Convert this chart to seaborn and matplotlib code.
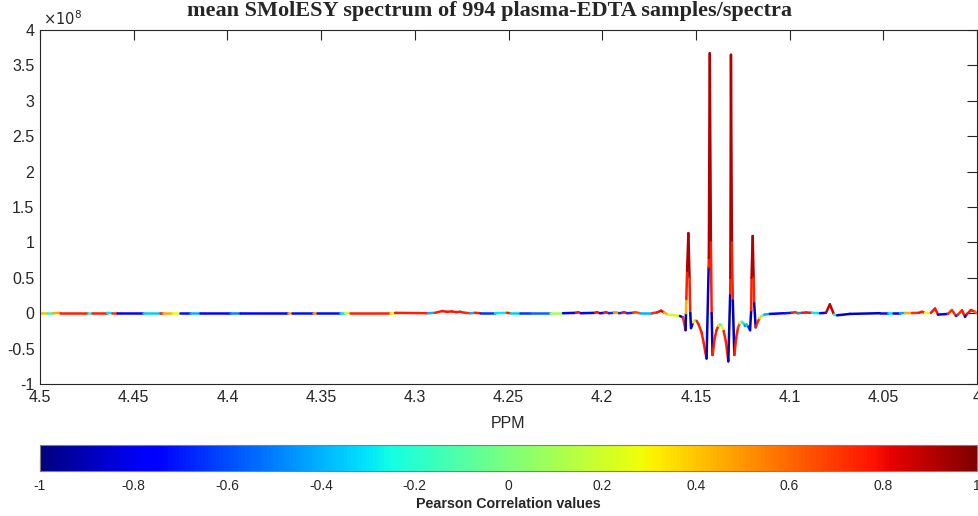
import numpy as np
import matplotlib

matplotlib.use("Agg")

import matplotlib.pyplot as plt
import seaborn as sns
from matplotlib.collections import LineCollection
from matplotlib.ticker import FixedLocator, FuncFormatter

# ============================================================
# DATA  (ppm, intensity in units of 1e8, Pearson r per segment)
# ============================================================

PPM = [
    4.5000, 4.4963, 4.4931, 4.4893, 4.4744, 4.4723, 4.4642, 4.4616, 4.4589, 4.4450,
    4.4360, 4.4344, 4.4296, 4.4253, 4.4200, 4.4146, 4.3986, 4.3933, 4.3677, 4.3655,
    4.3543, 4.3522, 4.3399, 4.3372, 4.3346, 4.3132, 4.3106, 4.2930, 4.2892, 4.2855,
    4.2829, 4.2802, 4.2780, 4.2759, 4.2732, 4.2705, 4.2679, 4.2652, 4.2572, 4.2508,
    4.2492, 4.2439, 4.2385, 4.2279, 4.2209, 4.2140, 4.2129, 4.2113, 4.2038, 4.2028,
    4.2012, 4.1990, 4.1980, 4.1964, 4.1937, 4.1926, 4.1910, 4.1894, 4.1883, 4.1867,
    4.1835, 4.1825, 4.1798, 4.1734, 4.1708, 4.1686, 4.1670, 4.1649, 4.1611, 4.1585,
    4.1569,
    # doublet of doublets region
    4.1555, 4.1553, 4.1551, 4.1547, 4.1540, 4.1534, 4.1530,
    4.1526, 4.1515, 4.1505, 4.1496, 4.1485, 4.1470, 4.1458, 4.1450,
    4.1443, 4.1432, 4.1431, 4.1426, 4.1420, 4.1416,
    4.1411, 4.1400, 4.1390, 4.1380, 4.1371, 4.1362, 4.1352, 4.1340, 4.1333,
    4.1327, 4.1317, 4.1316, 4.1313, 4.1308, 4.1303,
    4.1295, 4.1285, 4.1275, 4.1265, 4.1256, 4.1247, 4.1238, 4.1230, 4.1220,
    4.1211, 4.1205, 4.1203, 4.1197, 4.1192, 4.1189,
    4.1181, 4.1170, 4.1160, 4.1150, 4.1135,
    # right baseline
    4.1105, 4.1025, 4.0988, 4.0971, 4.0955, 4.0934, 4.0913, 4.0881, 4.0838, 4.0806,
    4.0785, 4.0763, 4.0747, 4.0678, 4.0518, 4.0475, 4.0448, 4.0411, 4.0384, 4.0347,
    4.0310, 4.0294, 4.0278, 4.0246, 4.0224, 4.0208, 4.0155, 4.0134, 4.0112, 4.0102,
    4.0080, 4.0064, 4.0053, 4.0032, 4.0011, 4.0000,
]

INTENSITY = [
    0.000, 0.000, 0.000, 0.005, 0.005, 0.005, 0.005, 0.000, 0.000, 0.000,
    0.000, 0.000, 0.000, 0.000, 0.000, 0.000, 0.000, 0.000, 0.000, 0.000,
    0.000, 0.000, 0.000, 0.000, 0.005, 0.005, 0.005, 0.000, 0.005, 0.030,
    0.020, 0.025, 0.015, 0.020, 0.005, 0.000, 0.005, 0.000, 0.000, 0.005,
    0.000, 0.000, 0.000, 0.000, 0.000, 0.005, 0.015, 0.000, 0.005, 0.015,
    0.000, 0.005, 0.015, 0.000, 0.005, 0.012, 0.000, 0.005, 0.015, 0.000,
    0.005, 0.015, 0.000, 0.000, 0.010, 0.035, 0.010, -0.020, -0.030, -0.040,
    -0.060,
    -0.24, 0.00, 0.20, 0.60, 1.13, 0.50, 0.00,
    -0.21, -0.13, -0.10, -0.11, -0.16, -0.27, -0.42, -0.55,
    -0.64, 0.65, 0.78, 3.67, 1.00, 0.00,
    -0.59, -0.36, -0.24, -0.18, -0.16, -0.18, -0.25, -0.40, -0.55,
    -0.68, 0.28, 0.50, 3.65, 1.00, 0.18,
    -0.59, -0.35, -0.20, -0.14, -0.12, -0.14, -0.18, -0.16, -0.19,
    -0.24, 0.04, 0.50, 1.09, 0.50, 0.14,
    -0.20, -0.12, -0.07, -0.04, -0.02,
    -0.010, 0.000, 0.005, 0.015, 0.000, 0.005, 0.010, 0.005, 0.000, 0.005,
    0.125, -0.020, -0.030, -0.010, 0.000, 0.000, 0.000, 0.000, 0.002, 0.003,
    0.005, 0.020, 0.003, 0.005, 0.066, -0.020, -0.010, 0.045, -0.040, -0.020,
    0.040, -0.050, -0.010, 0.045, 0.020, 0.000,
]

CORR = [
    0.40, -0.20, 0.45, 0.75, -0.25, 0.75, -0.30, 0.72, -0.75, -0.35,
    0.75, 0.45, 0.25, -0.72, -0.40, -0.75, -0.50, -0.75, 0.45, -0.72,
    0.50, -0.72, -0.30, 0.20, 0.75, 0.25, 0.75, -0.40, 0.75, 0.78,
    0.78, 0.78, 0.78, 0.75, 0.72, -0.40, 0.75, -0.65, -0.30, 0.75,
    -0.35, -0.65, -0.55, 0.10, -0.75, 0.78, 0.78, -0.75, 0.78, 0.78,
    -0.75, 0.78, 0.78, -0.65, 0.50, 0.50, -0.65, 0.78, 0.78, -0.65,
    0.72, 0.65, -0.40, 0.72, 0.78, 0.82, 0.45, 0.20, 0.20, -0.80,
    0.72,
    -0.90, 0.45, 0.75, 0.92, 0.92, 0.75, -0.90,
    -0.80, 0.25, 0.00, 0.75, 0.75, 0.75, 0.75, 0.75,
    -0.85, 0.75, 0.92, 0.90, 0.75, -0.90,
    0.75, 0.75, 0.75, 0.35, -0.20, 0.30, 0.75, 0.75, 0.75,
    -0.90, 0.75, 0.92, 0.90, 0.75, -0.90,
    0.75, 0.75, 0.65, 0.25, -0.20, -0.30, -0.50, -0.35, -0.65,
    -0.90, 0.75, 0.92, 0.90, 0.75, -0.90,
    0.75, 0.72, 0.35, 0.00, -0.40,
    -0.80, -0.70, 0.75, 0.72, -0.45, 0.78, 0.78, -0.30, -0.80, 0.88,
    0.88, -0.20, -0.88, -0.85, -0.72, -0.30, -0.78, -0.40, 0.45, 0.72,
    0.78, 0.78, 0.25, 0.78, 0.78, -0.80, 0.72, 0.72, -0.65, 0.72,
    0.78, -0.75, 0.78, 0.78, 0.60, 0.60,
]

X_TICKS = [4.5, 4.45, 4.4, 4.35, 4.3, 4.25, 4.2, 4.15, 4.1, 4.05, 4.0]
Y_TICKS = [-1, -0.5, 0, 0.5, 1, 1.5, 2, 2.5, 3, 3.5, 4]
CBAR_TICKS = [-1, -0.8, -0.6, -0.4, -0.2, 0, 0.2, 0.4, 0.6, 0.8, 1]

TITLE = "mean SMolESY spectrum of 994 plasma-EDTA samples/spectra"

# ============================================================
# PLOT
# ============================================================

sns.set_style("white")
plt.rcParams["font.family"] = ["Liberation Sans", "DejaVu Sans"]
plt.rcParams["axes.unicode_minus"] = False

INK = "#262626"

fig = plt.figure(figsize=(9.79, 5.16), dpi=100)
ax = fig.add_axes([40 / 979, 132 / 516, 937 / 979, 354 / 516])
cax = fig.add_axes([40 / 979, 45 / 516, 937 / 979, 26 / 516])

x = np.asarray(PPM)
y = np.asarray(INTENSITY)
c = np.asarray(CORR)
pts = np.column_stack([x, y]).reshape(-1, 1, 2)
segs = np.concatenate([pts[:-1], pts[1:]], axis=1)

cmap = plt.get_cmap("jet")
norm = plt.Normalize(-1, 1)
lc = LineCollection(segs, cmap=cmap, norm=norm, linewidths=1.8,
                    capstyle="round", joinstyle="round")
lc.set_array(c[:-1])
ax.add_collection(lc)

ax.set_xlim(4.5, 4.0)
ax.set_ylim(-1, 4)
ax.xaxis.set_major_locator(FixedLocator(X_TICKS))
ax.yaxis.set_major_locator(FixedLocator(Y_TICKS))
fmt = FuncFormatter(lambda v, p: f"{v:g}")
ax.xaxis.set_major_formatter(fmt)
ax.yaxis.set_major_formatter(fmt)
ax.tick_params(direction="in", length=7, width=0.8, colors=INK,
               labelsize=11.5, top=True, right=True, pad=4)
for sp in ax.spines.values():
    sp.set_color(INK); sp.set_linewidth(0.8)
ax.set_xlabel("PPM", fontsize=11.5, color=INK, labelpad=8)
ax.text(0.003, 1.006, r"$\times10^{8}$", transform=ax.transAxes,
        fontsize=10.5, color=INK, ha="left", va="bottom")

fig.text(0.5, 1 - 11 / 516, TITLE, ha="center", va="center",
         fontsize=16, fontweight="bold", family=["Liberation Serif", "DejaVu Serif"])

sm = plt.cm.ScalarMappable(cmap=cmap, norm=norm)
cb = fig.colorbar(sm, cax=cax, orientation="horizontal", ticks=CBAR_TICKS)
cb.ax.xaxis.set_major_formatter(fmt)
cb.ax.tick_params(direction="in", length=9, width=0.8, colors=INK,
                  labelsize=10, pad=6)
cb.outline.set_edgecolor("#7f7f7f")
cb.outline.set_linewidth(0.8)
cb.set_label("Pearson Correlation values", fontsize=10.3, fontweight="bold",
             color=INK, labelpad=3)

plt.savefig("out.png", dpi=100)
plt.close()
